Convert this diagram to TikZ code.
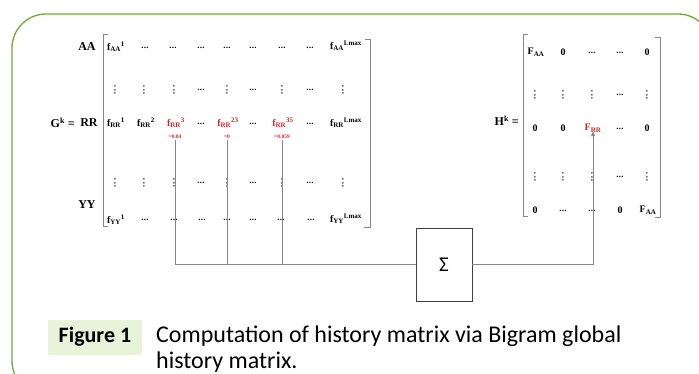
\documentclass[tikz,border=0pt]{standalone}
\usepackage{fontspec}
\setmainfont{Liberation Serif}
\newfontfamily\capfont{Carlito}
\usetikzlibrary{arrows.meta}
\definecolor{framegreen}{RGB}{106,170,60}
\definecolor{capbg}{RGB}{232,243,218}
\definecolor{entryred}{RGB}{215,40,40}
\definecolor{linegray}{RGB}{135,135,135}

% matrix entry helpers
\newcommand{\fent}[2]{f\textsubscript{#1}\textsuperscript{#2}}
\newcommand{\Fent}[1]{F\textsubscript{#1}}
\newcommand{\hd}{\raisebox{0.3ex}{.\kern0.3pt.\kern0.3pt.}}
\newcommand{\vd}{\rotatebox{90}{.\kern1.4pt.\kern1.4pt.}}

\begin{document}
\begin{tikzpicture}[x=1pt,y=-1pt,
  ent/.style={font=\bfseries\fontsize{10}{11}\selectfont, inner sep=0pt},
  dotent/.style={font=\bfseries\fontsize{9}{9}\selectfont, inner sep=0pt},
  hot/.style={ent, text=entryred},
  hotval/.style={font=\bfseries\fontsize{5.5}{6}\selectfont, text=entryred, inner sep=0.5pt},
  lab/.style={font=\bfseries\fontsize{12}{13}\selectfont, inner sep=0pt},
  brk/.style={draw=linegray, line width=1pt},
  wire/.style={draw=linegray, line width=1pt},
  sumbox/.style={draw=black!75, line width=0.9pt, minimum width=56pt, minimum height=73pt,
                 inner sep=0pt, font=\capfont\fontsize{21}{21}\selectfont},
]
\useasboundingbox (0,0) rectangle (699,374);

% outer frame
\begin{scope}
  \clip (0,0) rectangle (699,374);
  \draw[framegreen, line width=1.3pt, rounded corners=34pt] (12,14) rectangle (712,395);
\end{scope}

% ---------- G^k matrix ----------
\node[lab] (lAA) at (87,47) {AA};
\node[lab, anchor=east] (lG) at (75,123) {G\textsuperscript{k} =};
\node[lab] (lRR) at (89,123) {RR};
\node[lab] (lYY) at (87,205) {YY};

\draw[brk] (108,35) -- (103,35) -- (103,227) -- (108,227);
\draw[brk] (365,40) -- (370,40) -- (370,228) -- (364,228);

% row AA
\node[ent] (g11) at (116,47) {\fent{AA}{1}};
\foreach \c/\x in {2/145,3/173,4/201,5/227,6/253,7/282,8/310}
  \node[dotent] (g1\c) at (\x,48) {\hd};
\node[ent] (g19) at (346,46) {\fent{AA}{Lmax}};

% rows of vertical dots
\foreach \r/\y in {2/90,4/183}{
  \foreach \c/\x in {1/115,2/144,3/174,5/227,7/282,9/343}
    \node[dotent] (g\r\c) at (\x,\y) {\vd};
  \foreach \c/\x in {4/201,6/253,8/310}
    \node[dotent] (g\r\c) at (\x,\y) {\hd};
}

% row RR
\node[ent] (g31) at (116,123) {\fent{RR}{1}};
\node[ent] (g32) at (146,123) {\fent{RR}{2}};
\node[hot] (g33) at (176,123) {\fent{RR}{3}};
\node[dotent] (g34) at (201,124) {\hd};
\node[hot] (g35) at (228,123) {\fent{RR}{23}};
\node[dotent] (g36) at (253,124) {\hd};
\node[hot] (g37) at (283,123) {\fent{RR}{35}};
\node[dotent] (g38) at (310,124) {\hd};
\node[ent] (g39) at (346,123) {\fent{RR}{Lmax}};
\node[hotval] (v3) at (175,137) {=0.04};
\node[hotval] (v23) at (227,137) {=0};
\node[hotval] (v35) at (282,137) {=0.059};

% row YY
\node[ent] (g51) at (116,220) {\fent{YY}{1}};
\foreach \c/\x in {2/145,3/174,4/202,5/227,6/253,7/281,8/311}
  \node[dotent] (g5\c) at (\x,220) {\hd};
\node[ent] (g59) at (346,219) {\fent{YY}{Lmax}};

% ---------- summation ----------
\node[sumbox] (sum) at (444,265) {Σ};

% ---------- H^k matrix ----------
\node[lab, anchor=east] (lH) at (519,121) {H\textsuperscript{k} =};
\draw[brk] (528,35) -- (523,35) -- (523,217) -- (528,217);
\draw[brk] (655,38) -- (660,38) -- (660,218) -- (655,218);

\node[ent] (h11) at (536,52) {\Fent{AA}};
\node[ent] (h12) at (563,52) {0};
\node[dotent] (h13) at (592,53) {\hd};
\node[dotent] (h14) at (620,53) {\hd};
\node[ent] (h15) at (647,52) {0};
\foreach \r/\y in {2/95,4/177}{
  \foreach \c/\x in {1/535,2/563,3/592,5/647}
    \node[dotent] (h\r\c) at (\x,\y) {\vd};
  \node[dotent] (h\r4) at (620,\y) {\hd};
}
\node[ent] (h31) at (535,128) {0};
\node[ent] (h32) at (563,128) {0};
\node[hot] (h33) at (593,128) {\Fent{RR}};
\node[dotent] (h34) at (620,129) {\hd};
\node[ent] (h35) at (647,128) {0};
\node[ent] (h51) at (535,210) {0};
\node[dotent] (h52) at (563,211) {\hd};
\node[dotent] (h53) at (592,211) {\hd};
\node[ent] (h54) at (620,210) {0};
\node[ent] (h55) at (648,210) {\Fent{AA}};

% ---------- connectors ----------
\draw[wire] (v3.south) |- (sum.west);
\draw[wire] (v23.south) -- (v23.south |- sum.west);
\draw[wire] (v35.south) -- (v35.south |- sum.west);
\draw[wire, -{Triangle[length=5pt,width=4pt]}] (sum.east) -| ([yshift=1pt]h33.south);

% ---------- caption ----------
\node[fill=capbg, minimum width=94pt, minimum height=35pt, inner sep=0pt,
      font=\capfont\bfseries\fontsize{22}{22}\selectfont] (figlab) at (95,337) {Figure 1};
\node[anchor=north west, align=left, inner sep=0pt,
      font=\capfont\fontsize{24}{25.5}\selectfont] (figcap) at (156,326)
  {Computation of history matrix via Bigram global\\history matrix.};
\end{tikzpicture}
\end{document}
